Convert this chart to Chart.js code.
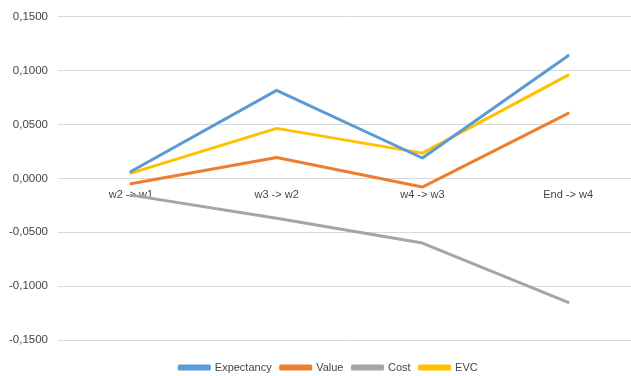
<!DOCTYPE html>
<html>
<head>
<meta charset="utf-8">
<script src="https://cdn.jsdelivr.net/npm/chart.js@4/dist/chart.umd.min.js"></script>
<style>
  html, body { margin: 0; padding: 0; background: #fff; overflow: hidden; }
  #wrap { width: 641px; height: 376px; }
</style>
</head>
<body>
<div id="wrap"><canvas id="c" width="641" height="376"></canvas></div>
<script>
// Week-over-week changes per component
const categories = ['w2 -> w1', 'w3 -> w2', 'w4 -> w3', 'End -> w4'];
const expectancy = [0.0065, 0.0818, 0.0190, 0.1140];
const value      = [-0.0050, 0.0195, -0.0080, 0.0605];
const cost       = [-0.0155, -0.0370, -0.0600, -0.1150];
const evc        = [0.0050, 0.0465, 0.0235, 0.0960];
const yTicks     = [-0.15, -0.10, -0.05, 0, 0.05, 0.10, 0.15];

const textColor = '#454545';
const gridColor = '#d9d9d9';
const fontFamily = '"Liberation Sans", Arial, sans-serif';

function series(label, data, color) {
  return {
    label, data,
    borderColor: color,
    backgroundColor: color,
    borderWidth: 3,
    pointRadius: 0,
    pointHoverRadius: 0,
    tension: 0,
    borderJoinStyle: 'round',
    borderCapStyle: 'round',
    fill: false
  };
}

// Nudge the legend block slightly right and down after layout
const legendOffset = {
  id: 'legendOffset',
  afterLayout(chart) {
    const lg = chart.legend;
    if (!lg) return;
    lg.left += 8; lg.right += 8;
    lg.top += 13; lg.bottom += 13;
  }
};

new Chart(document.getElementById('c'), {
  type: 'line',
  data: {
    labels: categories,
    datasets: [
      series('Expectancy', expectancy, '#5B9BD5'),
      series('Value', value, '#ED7D31'),
      series('Cost', cost, '#A5A5A5'),
      series('EVC', evc, '#FFC000')
    ]
  },
  plugins: [legendOffset],
  options: {
    responsive: false,
    animation: false,
    devicePixelRatio: 1,
    layout: { padding: { left: 0, right: 0, top: 10, bottom: 6 } },
    plugins: {
      tooltip: { enabled: false },
      legend: {
        position: 'bottom',
        labels: {
          boxWidth: 30,
          boxHeight: 3,
          padding: 9,
          color: textColor,
          font: { family: fontFamily, size: 11 }
        }
      }
    },
    scales: {
      x: {
        type: 'category',
        position: { y: 0 },
        offset: true,
        grid: { display: false, drawTicks: false },
        border: { display: false },
        ticks: {
          color: textColor,
          padding: 10,
          maxRotation: 0,
          autoSkip: false,
          font: { family: fontFamily, size: 11 }
        }
      },
      y: {
        min: yTicks[0],
        max: yTicks[yTicks.length - 1],
        afterBuildTicks: (axis) => { axis.ticks = yTicks.map(v => ({ value: v })); },
        afterFit: (axis) => { axis.width = 58; },
        grid: { color: gridColor, lineWidth: 1, drawTicks: false },
        border: { display: false },
        ticks: {
          color: textColor,
          padding: 10,
          font: { family: fontFamily, size: 11.5 },
          callback: (v) => v.toFixed(4).replace('.', ',')
        }
      }
    }
  }
});
</script>
</body>
</html>
